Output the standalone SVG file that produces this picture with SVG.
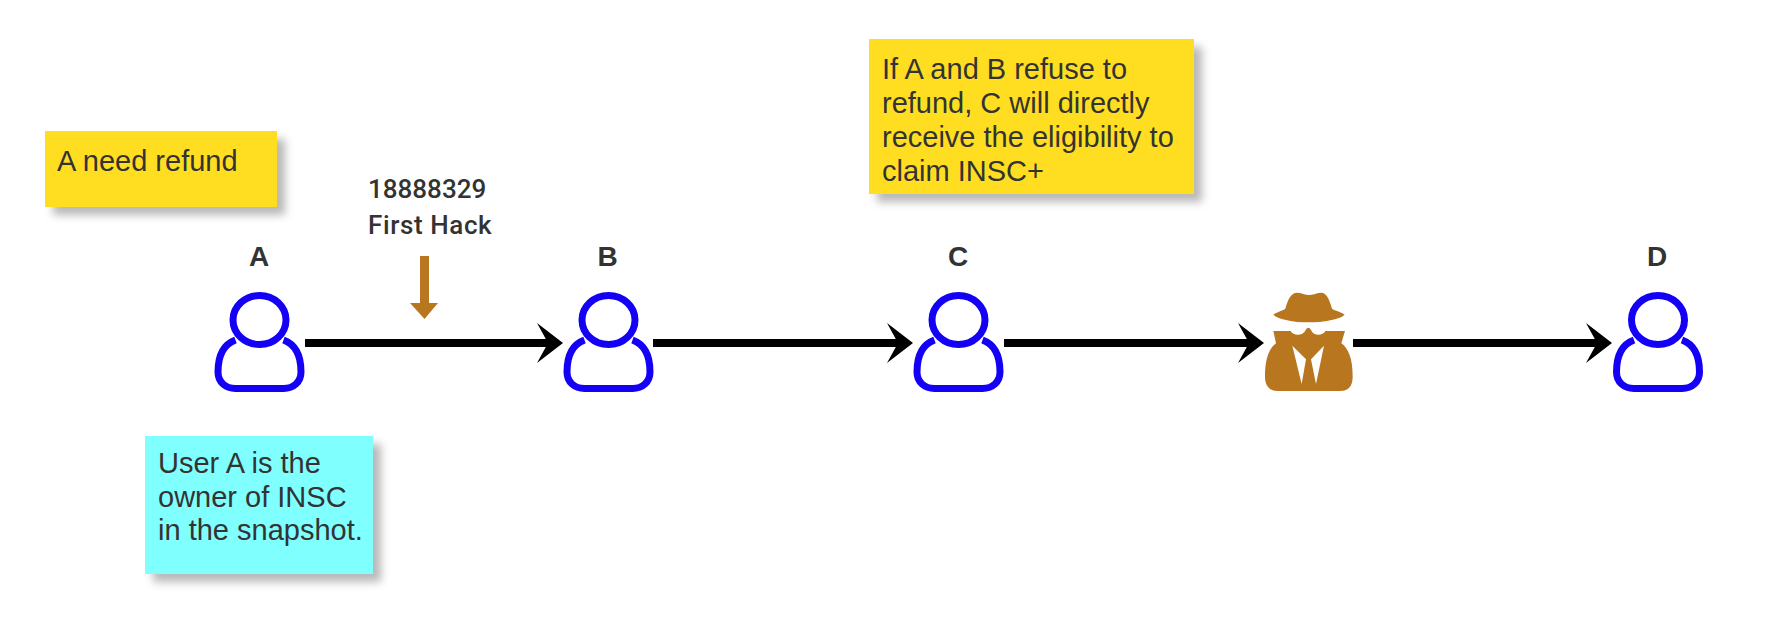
<svg xmlns="http://www.w3.org/2000/svg" width="1780" height="628" viewBox="0 0 1780 628">
<style>
.note{font:29px "Liberation Sans",Arial,sans-serif;fill:#333}
.label{font:bold 28px "Liberation Sans",Arial,sans-serif;fill:#333;text-anchor:middle}
.hack{font:500 26px Roboto,"Liberation Sans",sans-serif;fill:#333}
.user{fill:none;stroke:#1400F5;stroke-width:7;stroke-linejoin:round}
.link{fill:none;stroke:#000;stroke-width:8;marker-end:url(#stealth)}
.brown{fill:#B8761F}
</style>
<defs>
<filter id="shadow" x="-10%" y="-10%" width="125%" height="130%"><feDropShadow dx="8" dy="8" stdDeviation="4" flood-color="#000" flood-opacity="0.28"/></filter>
<marker id="stealth" markerUnits="userSpaceOnUse" markerWidth="30" markerHeight="44" refX="13" refY="21" orient="auto" overflow="visible"><path d="M0,1 L26,21 L0,41 L11,21 Z" fill="#000"/></marker>
<g id="person"><ellipse class="user" cx="0" cy="320" rx="26.5" ry="24.500"/><path class="user" d="M-24,340 C-35,344 -41.500,355 -41.500,372 C-41.500,382 -34,388.500 -24,388.500 L24,388.500 C34,388.500 41.500,382 41.500,372 C41.500,355 35,344 24,340"/></g>
</defs>
<rect width="1780" height="628" fill="#fff"/>
<g id="connectors">
<path class="link" d="M305,343 H550"/>
<path class="link" d="M653,343 H900"/>
<path class="link" d="M1004,343 H1251"/>
<path class="link" d="M1353,343 H1599"/>
</g>
<g id="note-refund"><rect x="45" y="131" width="232" height="76" fill="#FFDE24" filter="url(#shadow)"/><text class="note" x="57" y="171">A need refund</text></g>
<g id="note-owner"><rect x="145" y="436" width="228" height="138" fill="#80FFFF" filter="url(#shadow)"/><text class="note" x="158" y="473">User A is the</text><text class="note" x="158" y="507">owner of INSC</text><text class="note" x="158" y="540">in the snapshot.</text></g>
<g id="note-claim"><rect x="869" y="39" width="325" height="155" fill="#FFDE24" filter="url(#shadow)"/><text class="note" x="882" y="79">If A and B refuse to</text><text class="note" x="882" y="113">refund, C will directly</text><text class="note" x="882" y="147">receive the eligibility to</text><text class="note" x="882" y="181">claim INSC+</text></g>
<g id="first-hack"><text class="hack" x="368" y="198">18888329</text><text class="hack" x="368" y="234" letter-spacing="0.6">First Hack</text><path class="brown" d="M420,256 H429 V303 H438 L424.500,319 L410,303 H420 Z"/></g>
<g id="node-a"><text class="label" x="259" y="266">A</text><use href="#person" x="259.500"/></g>
<g id="node-b"><text class="label" x="607.500" y="266">B</text><use href="#person" x="608.500"/></g>
<g id="node-c"><text class="label" x="958" y="266">C</text><use href="#person" x="958.500"/></g>
<g id="node-d"><text class="label" x="1657" y="266">D</text><use href="#person" x="1658"/></g>
<g id="node-hacker" transform="translate(1240,280) scale(0.3333)">
<path class="brown" d="M100,104 C110,96 128,92 136,86 C142,65 150,40 170,38 C185,38 195,45 207,45 C220,45 230,38 245,38 C262,40 270,65 276,86 C285,92 305,96 314,104 C300,118 250,127 207,127 C160,127 115,118 100,104 Z"/>
<path class="brown" d="M100,153 L152,153 C160,168 188,170 197,150 Q205,136 213,150 C222,170 248,168 256,153 L315,153 L304,190 C325,205 338,235 338,290 C338,318 325,333 300,333 L112,333 C90,333 75,318 75,290 C75,235 88,205 108,190 Z"/>
<path fill="#fff" d="M157,197 L198,238 L185,312 Z M252,197 L213,238 L228,312 Z"/>
</g>
</svg>
